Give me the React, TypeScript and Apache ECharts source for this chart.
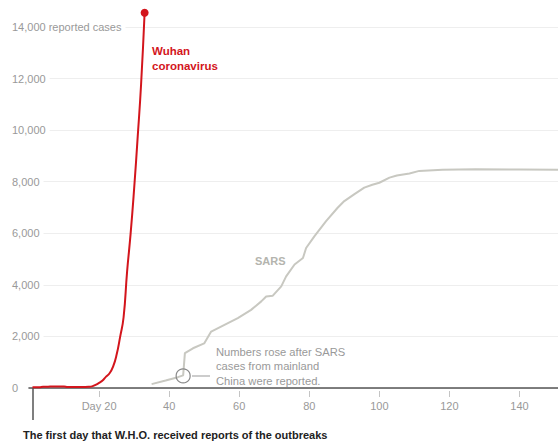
import React, { useEffect, useRef } from "react";
import * as echarts from "echarts";

// Days since W.H.O. first received reports (day 1 = first day)
const wuhanDays = [1, 2, 3, 4, 5, 6, 7, 8, 9, 10, 11, 12, 13, 14, 15, 16, 17, 18, 19, 20, 21, 22, 23, 24, 25, 26, 27, 28, 29, 30, 31, 32, 33];
const wuhanCases = [27, 27, 27, 44, 44, 59, 59, 59, 59, 59, 41, 41, 41, 41, 41, 41, 45, 62, 121, 198, 291, 440, 571, 830, 1287, 1975, 2744, 4515, 5974, 7711, 9692, 11791, 14550];

const sarsDays = [35, 39, 42.5, 44, 44.5, 46.8, 50, 52, 55.8, 59.6, 63.4, 66.3, 67.7, 69.6, 72, 73.4, 75.8, 78.2, 79.1, 81.5, 84.8, 88.1, 90, 92.9, 95.7, 98, 100, 102.9, 105, 108.6, 111.4, 118, 127.5, 140, 151];
const sarsCases = [150, 290, 420, 490, 1350, 1540, 1730, 2190, 2450, 2710, 3030, 3360, 3550, 3580, 3940, 4330, 4790, 5040, 5430, 5890, 6470, 6990, 7250, 7520, 7770, 7880, 7960, 8160, 8240, 8320, 8420, 8460, 8480, 8470, 8460];

const xTickValues = [20, 40, 60, 80, 100, 120, 140];
const firstDay = [1];
const annotationPoint = [44, 470];

const FONT = "'Liberation Sans', Arial, sans-serif";
const RED = "#d3151c";
const SARS_COLOR = "#c8c8c1";
const GRAY_TEXT = "#999999";

export default function App() {
  const ref = useRef<HTMLDivElement>(null);

  useEffect(() => {
    if (!ref.current) return;
    const chart = echarts.init(ref.current, undefined, { renderer: "svg" });

    const wuhanData = wuhanDays.map((d, i) => {
      const item: any = { value: [d, wuhanCases[i]] };
      if (i === wuhanDays.length - 1) {
        item.symbol = "circle";
        item.symbolSize = 8;
      }
      return item;
    });
    const sarsData = sarsDays.map((d, i) => [d, sarsCases[i]]);

    chart.setOption({
      animation: false,
      textStyle: { fontFamily: FONT },
      grid: { left: 29, right: 0, top: 27, bottom: 55, containLabel: false },
      xAxis: [
        {
          type: "value",
          min: 0,
          max: 151,
          interval: 20,
          axisLine: { show: true, lineStyle: { color: "#555", width: 1.6 } },
          axisTick: { show: true, customValues: firstDay, length: 32, lineStyle: { color: "#555", width: 1.5 } },
          axisLabel: { show: false },
          splitLine: { show: false },
        },
        {
          type: "value",
          position: "bottom",
          offset: 3,
          min: 0,
          max: 151,
          interval: 20,
          axisLine: { show: false },
          axisTick: { show: true, customValues: xTickValues, length: 6, lineStyle: { color: "#c4c4c4", width: 1 } },
          axisLabel: {
            show: true,
            customValues: xTickValues,
            margin: 9,
            color: GRAY_TEXT,
            fontSize: 11,
            fontFamily: FONT,
            formatter: (v: number) => (v === 20 ? "Day 20" : String(v)),
          },
          splitLine: { show: false },
        },
      ],
      yAxis: {
        type: "value",
        min: 0,
        max: 14000,
        interval: 2000,
        axisLine: { show: false },
        axisTick: { show: false },
        splitLine: { show: true, lineStyle: { color: "#eeeeee", width: 1 } },
        axisLabel: {
          align: "left",
          margin: 17,
          color: GRAY_TEXT,
          fontSize: 11,
          fontFamily: FONT,
          backgroundColor: "#ffffff",
          padding: [2, 4, 0, 0],
          formatter: (v: number) =>
            v === 14000 ? "14,000 reported cases" : v.toLocaleString("en-US"),
        },
      },
      series: [
        {
          name: "SARS",
          type: "line",
          xAxisIndex: 0,
          data: sarsData,
          symbol: "none",
          clip: false,
          lineStyle: { color: SARS_COLOR, width: 2 },
          z: 2,
          markPoint: {
            symbol: "circle",
            symbolSize: 14,
            silent: true,
            label: { show: false },
            itemStyle: { color: "rgba(255,255,255,0)", borderColor: "#888", borderWidth: 1.2 },
            data: [{ coord: annotationPoint }],
          },
        },
        {
          name: "Wuhan coronavirus",
          type: "line",
          xAxisIndex: 0,
          data: wuhanData,
          symbol: "none",
          showSymbol: true,
          smooth: 0.5,
          clip: false,
          itemStyle: { color: RED },
          lineStyle: { color: RED, width: 2 },
          z: 3,
        },
      ],
      graphic: [
        {
          type: "text",
          x: 152,
          y: 43,
          style: {
            text: "Wuhan\ncoronavirus",
            fill: RED,
            font: `bold 11.5px ${FONT}`,
            lineHeight: 15,
          },
        },
        {
          type: "text",
          x: 255,
          y: 255,
          style: {
            text: "SARS",
            fill: "#b4b4ae",
            font: `bold 11px ${FONT}`,
          },
        },
        {
          type: "line",
          shape: { x1: 192, y1: 376, x2: 210, y2: 376 },
          style: { stroke: "#999", lineWidth: 1 },
        },
        {
          type: "text",
          x: 216,
          y: 344.5,
          style: {
            text: "Numbers rose after SARS\ncases from mainland\nChina were reported.",
            fill: GRAY_TEXT,
            font: `11.2px ${FONT}`,
            lineHeight: 14.6,
          },
        },
        {
          type: "text",
          x: 23,
          y: 435,
          style: {
            text: "The first day that W.H.O. received reports of the outbreaks",
            fill: "#222",
            font: `bold 11px ${FONT}`,
            verticalAlign: "middle",
          },
        },
      ],
    });

    return () => chart.dispose();
  }, []);

  return (
    <div
      ref={ref}
      style={{ position: "absolute", left: 0, top: 0, width: 558, height: 443 }}
    />
  );
}
